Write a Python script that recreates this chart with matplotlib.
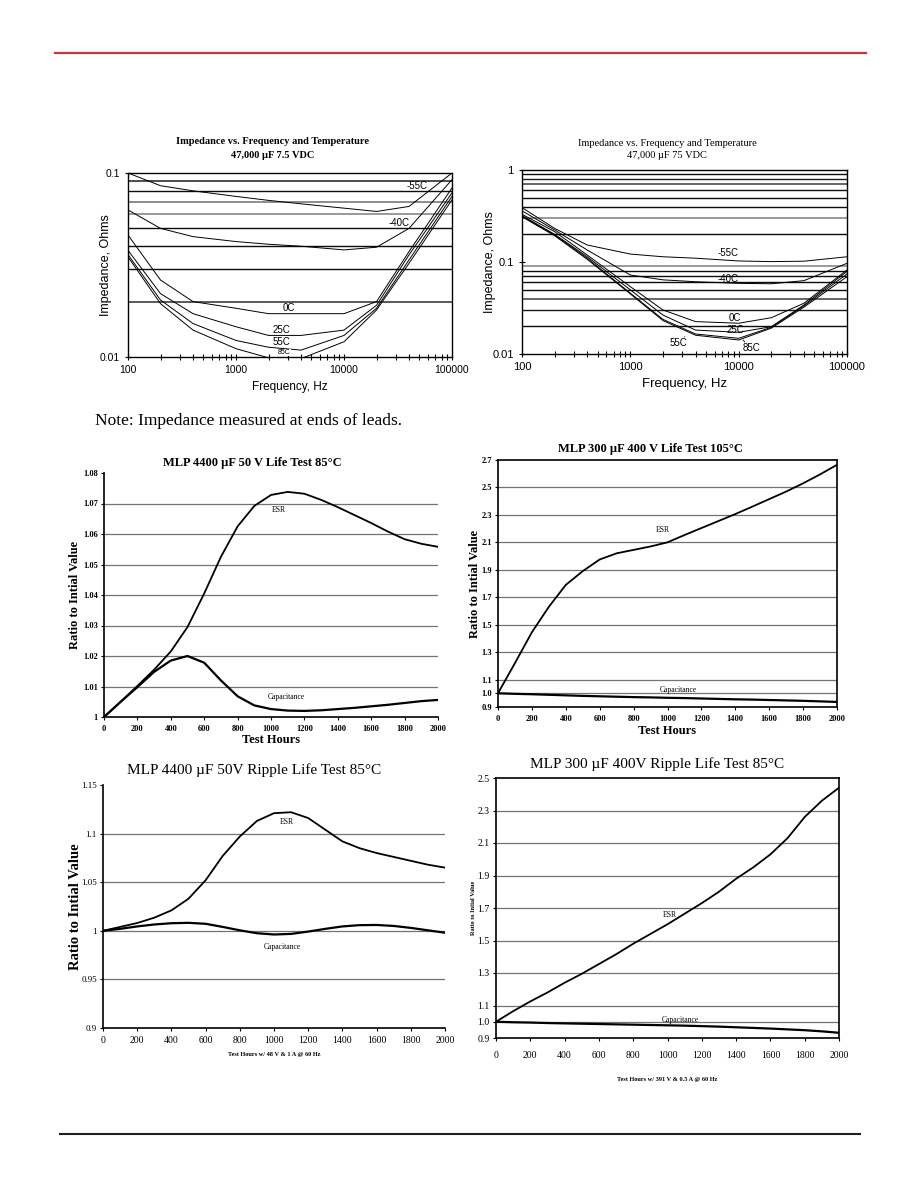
import matplotlib
matplotlib.use("Agg")
import matplotlib.pyplot as plt
import numpy as np
from matplotlib.lines import Line2D
from matplotlib.ticker import FixedLocator, NullFormatter, FuncFormatter

SERIF = "Liberation Serif"
SANS = "Liberation Sans"

# ---- impedance vs frequency, 47,000 uF 7.5 VDC
freq = [100, 200, 400, 1000, 2000, 4000, 10000, 20000, 40000, 100000]
z75_m55 = [0.100, 0.0853, 0.080, 0.0746, 0.071, 0.068, 0.0644, 0.0618, 0.0658, 0.100]
z75_m40 = [0.063, 0.050, 0.0451, 0.0424, 0.041, 0.040, 0.0382, 0.0395, 0.050, 0.092]
z75_0 = [0.046, 0.0262, 0.020, 0.0184, 0.0172, 0.0172, 0.0172, 0.020, 0.0374, 0.083]
z75_25 = [0.038, 0.0221, 0.0172, 0.0146, 0.0131, 0.0131, 0.014, 0.0191, 0.0359, 0.078]
z75_55 = [0.036, 0.0204, 0.0152, 0.0123, 0.0113, 0.0109, 0.0131, 0.0184, 0.0337, 0.0746]
z75_85 = [0.035, 0.0195, 0.014, 0.0111, 0.0099, 0.0098, 0.0121, 0.018, 0.0323, 0.0715]

# ---- impedance vs frequency, 47,000 uF 75 VDC
z750_m55 = [0.39, 0.232, 0.153, 0.122, 0.114, 0.110, 0.1026, 0.101, 0.102, 0.114]
z750_m40 = [0.36, 0.223, 0.135, 0.0722, 0.064, 0.061, 0.0586, 0.058, 0.0627, 0.0968]
z750_0 = [0.33, 0.214, 0.119, 0.054, 0.0301, 0.0225, 0.0216, 0.0248, 0.0356, 0.0819]
z750_25 = [0.32, 0.200, 0.114, 0.0498, 0.0265, 0.0182, 0.0172, 0.0198, 0.0341, 0.079]
z750_55 = [0.315, 0.197, 0.110, 0.0458, 0.0238, 0.0165, 0.0148, 0.0195, 0.0333, 0.0741]
z750_85 = [0.31, 0.193, 0.107, 0.045, 0.0231, 0.016, 0.0142, 0.0191, 0.0323, 0.0693]

temp_names = ["-55C", "-40C", "0C", "25C", "55C", "85C"]

# ---- life tests
hours = [0, 100, 200, 300, 400, 500, 600, 700, 800, 900, 1000,
         1100, 1200, 1300, 1400, 1500, 1600, 1700, 1800, 1900, 2000]

lt1_esr = [1.000, 1.005, 1.0102, 1.0155, 1.0215, 1.0295, 1.0405, 1.0525, 1.0625, 1.0692, 1.0728,
           1.0738, 1.0732, 1.0712, 1.0688, 1.0662, 1.0636, 1.0608, 1.0583, 1.0568, 1.0558]
lt1_cap = [1.000, 1.005, 1.0098, 1.0148, 1.0185, 1.0200, 1.0178, 1.012, 1.0068, 1.0038, 1.0026,
           1.0021, 1.0020, 1.0022, 1.0026, 1.0030, 1.0035, 1.0040, 1.0046, 1.0052, 1.0056]

lt2_esr = [1.00, 1.22, 1.445, 1.63, 1.79, 1.89, 1.975, 2.02, 2.045, 2.07, 2.10,
           2.153, 2.204, 2.255, 2.306, 2.36, 2.415, 2.47, 2.53, 2.595, 2.665]
lt2_cap = [1.000, 0.996, 0.993, 0.989, 0.985, 0.981, 0.978, 0.975, 0.972, 0.970, 0.967,
           0.965, 0.962, 0.959, 0.956, 0.954, 0.951, 0.948, 0.945, 0.941, 0.937]

rp1_esr = [1.000, 1.004, 1.008, 1.0135, 1.021, 1.033, 1.052, 1.077, 1.097, 1.113, 1.121,
           1.122, 1.116, 1.104, 1.092, 1.085, 1.080, 1.076, 1.072, 1.068, 1.065]
rp1_cap = [1.000, 1.002, 1.0045, 1.0065, 1.0078, 1.0082, 1.0072, 1.004, 1.0005, 0.9975, 0.9962,
           0.9968, 0.9992, 1.002, 1.0045, 1.0058, 1.006, 1.005, 1.003, 1.0005, 0.998]

rp2_esr = [1.00, 1.065, 1.125, 1.18, 1.24, 1.295, 1.355, 1.415, 1.48, 1.54, 1.60,
           1.665, 1.73, 1.80, 1.88, 1.95, 2.03, 2.13, 2.26, 2.36, 2.44]
rp2_cap = [1.000, 0.997, 0.995, 0.992, 0.990, 0.988, 0.986, 0.984, 0.982, 0.980, 0.978,
           0.976, 0.973, 0.970, 0.966, 0.962, 0.958, 0.953, 0.948, 0.941, 0.932]

W, H = 918, 1188


def rect(x0, y0, x1, y1):
    return [x0 / W, 1 - y1 / H, (x1 - x0) / W, (y1 - y0) / H]


def impedance_chart(fig, r, curves, ylim, shades, ylabels, xlab_size, ypad, tick_size):
    ax = fig.add_axes(r)
    ax.set_xscale("log")
    ax.set_yscale("log")
    ax.set_xlim(100, 100000)
    ax.set_ylim(*ylim)
    # horizontal reference lines at every minor decade step
    levels = [m * 10.0 ** e for e in range(-2, 1) for m in range(2, 10)]
    levels = [v for v in levels if ylim[0] < v < ylim[1]]
    for v, s in zip(levels, shades):
        ax.axhline(v, color=str(s), lw=1.0 if s < 0.3 else 1.4, zorder=1)
    for y in curves:
        ax.plot(freq, y, color="black", lw=0.7, zorder=3)
    ax.yaxis.set_major_locator(FixedLocator(ylabels))
    ax.yaxis.set_major_formatter(FuncFormatter(lambda v, p: "%g" % v))
    ax.yaxis.set_minor_formatter(NullFormatter())
    ax.xaxis.set_major_formatter(FuncFormatter(lambda v, p: "%d" % v))
    ax.tick_params(which="both", direction="inout", length=5, width=0.8, labelsize=tick_size)
    ax.tick_params(axis="y", which="minor", length=0)
    for lbl in ax.get_xticklabels() + ax.get_yticklabels():
        lbl.set_family(SANS)
    for sp in ax.spines.values():
        sp.set_linewidth(1.0)
    ax.set_xlabel("Frequency, Hz", family=SANS, fontsize=xlab_size, labelpad=4)
    ax.set_ylabel("Impedance, Ohms", family=SANS, fontsize=9, labelpad=ypad)
    return ax


def life_chart(fig, r, esr, cap, ylim, yticks, yfmt, ylab_size, ypad,
               box, bold_ticks, tick_size, esr_xy, cap_xy):
    ax = fig.add_axes(r)
    ax.set_xlim(0, 2000)
    ax.set_ylim(*ylim)
    for v in yticks[1:-1]:
        ax.axhline(v, color="0.45", lw=0.9, zorder=1)
    ax.plot(hours, esr, color="black", lw=1.3, zorder=3, solid_joinstyle="round")
    ax.plot(hours, cap, color="black", lw=1.6, zorder=3, solid_joinstyle="round")
    ax.set_xticks(range(0, 2001, 200))
    ax.set_yticks(yticks)
    ax.yaxis.set_major_formatter(FuncFormatter(lambda v, p: yfmt % v))
    ax.tick_params(direction="out", length=2.5, width=0.8, labelsize=tick_size, pad=3)
    ax.tick_params(axis="y", pad=2)
    for lbl in ax.get_xticklabels() + ax.get_yticklabels():
        lbl.set_family(SERIF)
        if bold_ticks:
            lbl.set_weight("bold")
    ax.spines["top"].set_visible(box)
    ax.spines["right"].set_visible(box)
    for sp in ax.spines.values():
        sp.set_linewidth(1.2)
    ax.text(esr_xy[0], esr_xy[1], "ESR", family=SERIF, fontsize=5.5, ha="center", va="center")
    ax.text(cap_xy[0], cap_xy[1], "Capacitance", family=SERIF, fontsize=5.5, ha="center", va="center")
    ax.set_ylabel("Ratio to Intial Value", family=SERIF, fontweight="bold", fontsize=ylab_size,
                  labelpad=ypad)
    return ax


fig = plt.figure(figsize=(W / 100, H / 100), dpi=100)

# page rules
fig.add_artist(Line2D([55 / W, 866 / W], [1 - 52.7 / H] * 2, color="#c1393d", lw=1.6))
fig.add_artist(Line2D([60 / W, 860 / W], [1 - 1134.3 / H] * 2, color="#231f20", lw=1.5))

# --- top left
ax1 = impedance_chart(
    fig, rect(128, 173, 452, 357),
    [z75_m55, z75_m40, z75_0, z75_25, z75_55, z75_85], (0.01, 0.1),
    [0.35, 0.05, 0.05, 0.05, 0.6, 0.55, 0.05, 0.3], [0.01, 0.1], 8.5, -9, 7.5)
for name, fx, fy, fs in zip(temp_names,
                            [47600, 32200, 3060, 2655, 2655, 2800],
                            [0.0846, 0.0533, 0.0184, 0.0141, 0.0121, 0.0106],
                            [7, 7, 7, 7, 7, 5]):
    ax1.text(fx, fy, name, family=SANS, fontsize=fs, ha="center", va="center", zorder=4,
             bbox=dict(facecolor="white", edgecolor="none", pad=0.2) if fs == 5 else None)
fig.text(273 / W, 1 - 141.5 / H, "Impedance vs. Frequency and Temperature", family=SERIF,
         fontweight="bold", fontsize=7.5, ha="center", va="center")
fig.text(273 / W, 1 - 155 / H, "47,000 \u00b5F 7.5 VDC", family=SERIF,
         fontweight="bold", fontsize=7.5, ha="center", va="center")

# --- top right
ax2 = impedance_chart(
    fig, rect(522, 170, 847, 354),
    [z750_m55, z750_m40, z750_0, z750_25, z750_55, z750_85], (0.01, 1.0),
    [0.05, 0.1, 0.4, 0.05, 0.05, 0.05, 0.05, 0.6,
     0.05, 0.6, 0.05, 0.05, 0.05, 0.4, 0.1, 0.05], [0.01, 0.1, 1], 9.5, -3, 8)
for name, fx, fy in zip(temp_names, [8050, 8050, 9270, 9270, 2775, 13220],
                        [0.126, 0.0653, 0.0244, 0.0182, 0.0131, 0.0115]):
    ax2.text(fx, fy, name, family=SANS, fontsize=7, ha="center", va="center", zorder=4)
ax2.annotate("", xy=(3300, 0.0163), xytext=(3050, 0.0145),
             arrowprops=dict(arrowstyle="-", lw=0.6))
ax2.annotate("", xy=(11000, 0.0142), xytext=(11800, 0.0128),
             arrowprops=dict(arrowstyle="-", lw=0.6))
fig.text(667 / W, 1 - 143 / H, "Impedance vs. Frequency and Temperature", family=SERIF,
         fontsize=7.5, ha="center", va="center")
fig.text(667 / W, 1 - 155.5 / H, "47,000 \u00b5F 75 VDC", family=SERIF,
         fontsize=7.5, ha="center", va="center")

fig.text(95 / W, 1 - 421 / H, "Note: Impedance measured at ends of leads.", family=SERIF,
         fontsize=12.5, ha="left", va="center")

# --- middle left
ax3 = life_chart(fig, rect(104, 473, 438, 717), lt1_esr, lt1_cap, (1.0, 1.08),
                 [1.0 + 0.01 * i for i in range(9)], "%g", 9, 1,
                 False, True, 6, (1044, 1.068), (1094, 1.0064))
ax3.set_xlabel("Test Hours", family=SERIF, fontweight="bold", fontsize=9, labelpad=1)
fig.text(252 / W, 1 - 463 / H, "MLP 4400 \u00b5F 50 V Life Test 85\u00b0C", family=SERIF,
         fontweight="bold", fontsize=9, ha="center", va="center")

# --- middle right
ax4 = life_chart(fig, rect(498, 460, 837, 707), lt2_esr, lt2_cap, (0.9, 2.7),
                 [0.9, 1.0, 1.1, 1.3, 1.5, 1.7, 1.9, 2.1, 2.3, 2.5, 2.7], "%.1f", 9, 0,
                 True, True, 6, (971, 2.19), (1064, 1.026))
ax4.set_xlabel("Test Hours", family=SERIF, fontweight="bold", fontsize=9, labelpad=2)
fig.text(650 / W, 1 - 449 / H, "MLP 300 \u00b5F 400 V Life Test 105\u00b0C", family=SERIF,
         fontweight="bold", fontsize=9, ha="center", va="center")

# --- bottom left
ax5 = life_chart(fig, rect(103, 785, 445, 1028), rp1_esr, rp1_cap, (0.9, 1.15),
                 [0.9, 0.95, 1.0, 1.05, 1.1, 1.15], "%g", 10.5, -1,
                 False, False, 6.5, (1073, 1.112), (1048, 0.983))
ax5.tick_params(axis="x", labelsize=7)
ax5.set_xlabel("Test Hours w/ 48 V & 1 A @ 60 Hz", family=SERIF, fontweight="bold",
               fontsize=4.5, labelpad=5)
fig.text(254 / W, 1 - 770 / H, "MLP 4400 \u00b5F 50V Ripple Life Test 85\u00b0C", family=SERIF,
         fontsize=11, ha="center", va="center")

# --- bottom right
ax6 = life_chart(fig, rect(496, 778, 839, 1038), rp2_esr, rp2_cap, (0.9, 2.5),
                 [0.9, 1.0, 1.1, 1.3, 1.5, 1.7, 1.9, 2.1, 2.3, 2.5], "%.1f", 4.5, 1,
                 True, False, 7, (1014, 1.655), (1073, 1.009))
ax6.tick_params(axis="x", pad=7)
ax6.set_xlabel("Test Hours w/ 391 V & 0.5 A @ 60 Hz", family=SERIF, fontweight="bold",
               fontsize=4.5, labelpad=12)
fig.text(657 / W, 1 - 764 / H, "MLP 300 \u00b5F 400V Ripple Life Test 85\u00b0C", family=SERIF,
         fontsize=11, ha="center", va="center")

fig.savefig("out.png", dpi=100)
